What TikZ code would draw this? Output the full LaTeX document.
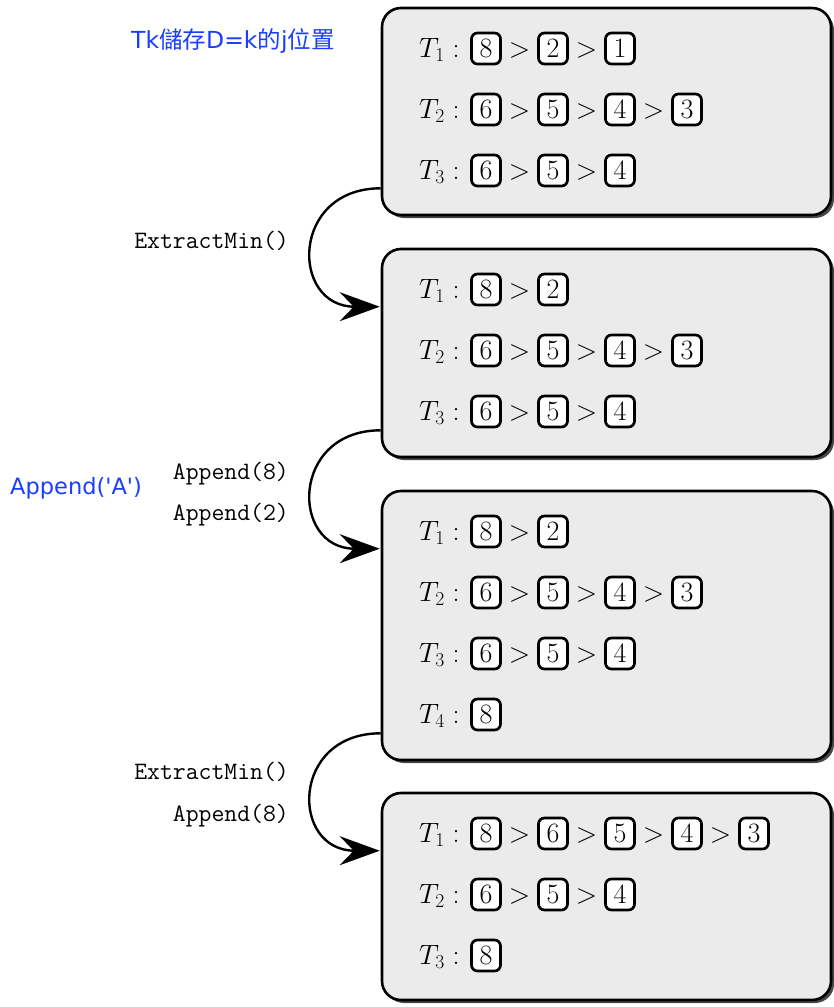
\RequirePackage{fix-cm}
\documentclass[tikz,border=0pt]{standalone}
\usepackage{fontspec}
\newfontfamily\blfont{DejaVu Sans}
\newfontfamily\cjkfont{Noto Sans CJK TC}
\usetikzlibrary{arrows.meta,shadows}
\definecolor{lblblue}{RGB}{25,62,255}
\newcommand\mathbig{\fontsize{28}{34}\selectfont}
% #1 box prefix, #2 row index, #3 row centre y, #4 list of numbers
\newcommand{\qrow}[4]{%
  \node[mrow, anchor=base west] (#1t#2) at (419,{#3+9}) {$T_{#2}:$};
  \foreach \v [count=\i] in {#4} {
    \node[numbox] (#1r#2n\i) at ({486+67*(\i-1)},#3) {$\v$};
    \ifnum\i>1
      \node[mrow, anchor=base] (#1r#2g\i) at ({452.5+67*(\i-1)},{#3+9}) {$>$};
    \fi
  }
}
\begin{document}
\begin{tikzpicture}[x=1pt,y=-1pt,
  statebox/.style={draw, line width=2.6pt, rounded corners=19pt, fill=black!8,
    drop shadow={shadow xshift=3pt, shadow yshift=-3pt, fill=black!72, opacity=1},
    inner sep=0, minimum width=449pt},
  numbox/.style={draw, line width=2.7pt, rounded corners=6pt, fill=white,
    minimum width=29pt, minimum height=31pt, inner sep=0, font=\mathbig,
    text height=18pt, text depth=0pt},
  mrow/.style={inner sep=0, font=\mathbig},
  oplabel/.style={inner sep=0, anchor=base east, font=\fontsize{25}{28}\selectfont\ttfamily},
  note/.style={inner sep=0, anchor=base west, text=lblblue},
  flowarrow/.style={line width=2.4pt, -{Stealth[length=40pt, width=29pt, inset=14pt]}}
]
\useasboundingbox (0,0) rectangle (833,1007);

% state boxes
\node[statebox, minimum height=207pt] (b1) at (606.5,111.5) {};
\node[statebox, minimum height=208pt] (b2) at (606.5,353) {};
\node[statebox, minimum height=269pt] (b3) at (606.5,625.5) {};
\node[statebox, minimum height=207pt] (b4) at (606.5,896.5) {};

% rows
\qrow{b1}{1}{48.5}{8,2,1}
\qrow{b1}{2}{109.5}{6,5,4,3}
\qrow{b1}{3}{170.5}{6,5,4}

\qrow{b2}{1}{289.5}{8,2}
\qrow{b2}{2}{350.5}{6,5,4,3}
\qrow{b2}{3}{411.5}{6,5,4}

\qrow{b3}{1}{531.5}{8,2}
\qrow{b3}{2}{592.5}{6,5,4,3}
\qrow{b3}{3}{653.5}{6,5,4}
\qrow{b3}{4}{714.5}{8}

\qrow{b4}{1}{833.5}{8,6,5,4,3}
\qrow{b4}{2}{894.5}{6,5,4}
\qrow{b4}{3}{955.5}{8}

% connectors
\draw[flowarrow] ([yshift=28pt]b1.south west) .. controls +(-90.5,0) and +(-89.5,0) .. ([xshift=-1pt,yshift=-59pt]b2.north west);
\draw[flowarrow] ([yshift=28pt]b2.south west) .. controls +(-90.5,0) and +(-89.5,0) .. ([xshift=-1pt,yshift=-59pt]b3.north west);
\draw[flowarrow] ([yshift=28pt]b3.south west) .. controls +(-90.5,0) and +(-89.5,0) .. ([xshift=-1pt,yshift=-59pt]b4.north west);

% operation labels
\node[oplabel] (op1) at (289,248) {ExtractMin()};
\node[oplabel] (op2) at (289,479) {Append(8)};
\node[oplabel] (op3) at (289,520) {Append(2)};
\node[oplabel] (op4) at (289,779) {ExtractMin()};
\node[oplabel] (op5) at (289,821) {Append(8)};

% blue notes
\node[note, font=\fontsize{23.5}{28}\selectfont\blfont] (n1) at (131,48)
  {Tk{\cjkfont 儲存}D=k{\cjkfont 的}j{\cjkfont 位置}};
\node[note, font=\fontsize{22.5}{28}\selectfont\blfont] (n2) at (10,494) {Append('A')};
\end{tikzpicture}
\end{document}
